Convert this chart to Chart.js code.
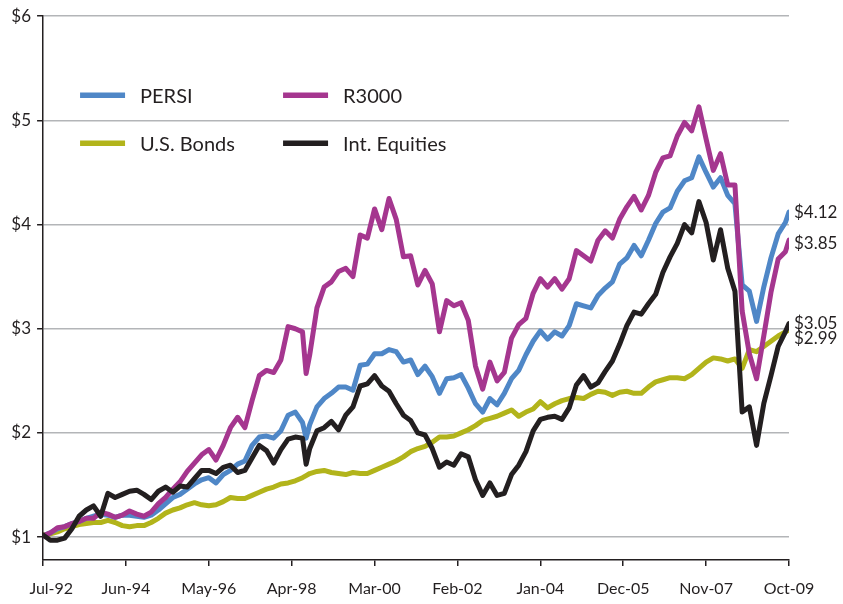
<!DOCTYPE html>
<html>
<head>
<meta charset="utf-8">
<title>Growth of $1</title>
<script src="https://cdn.jsdelivr.net/npm/chart.js@4.4.1/dist/chart.umd.min.js"></script>
<style>
  html, body { margin: 0; padding: 0; background: #fff; }
  #wrap { width: 843px; height: 604px; }
</style>
</head>
<body>
<div id="wrap"><canvas id="chart" width="843" height="604"></canvas></div>
<script>
// growth of $1, Jul-92 .. Oct-09 (month offsets from Jul-92)
const months = [
    0, 2, 4, 6, 8, 10, 12, 14, 16, 18,
    20, 22, 24, 26, 28, 30, 32, 34, 36, 38,
    40, 42, 44, 46, 48, 50, 52, 54, 56, 58,
    60, 62, 64, 66, 68, 70, 72, 73, 74, 76,
    78, 80, 82, 84, 86, 88, 90, 92, 94, 96,
    98, 100, 102, 104, 106, 108, 110, 112, 114, 116,
    118, 120, 122, 124, 126, 128, 130, 132, 134, 136,
    138, 140, 142, 144, 146, 148, 150, 152, 154, 156,
    158, 160, 162, 164, 166, 168, 170, 172, 174, 176,
    178, 180, 182, 184, 186, 188, 190, 192, 194, 196,
    198, 200, 202, 204, 206, 207
];

const tickLabels = ['Jul-92', 'Jun-94', 'May-96', 'Apr-98', 'Mar-00', 'Feb-02', 'Jan-04', 'Dec-05', 'Nov-07', 'Oct-09'];
const tickStep = 23;

const seriesNames = ['PERSI', 'R3000', 'U.S. Bonds', 'Int. Equities'];

const persi = [
    1.01, 1.04, 1.08, 1.10, 1.13, 1.15, 1.18, 1.20, 1.22, 1.21,
    1.19, 1.21, 1.21, 1.20, 1.19, 1.21, 1.26, 1.32, 1.38, 1.41,
    1.46, 1.51, 1.55, 1.57, 1.52, 1.60, 1.64, 1.70, 1.73, 1.88,
    1.96, 1.97, 1.95, 2.02, 2.17, 2.20, 2.10, 1.95, 2.08, 2.25,
    2.33, 2.38, 2.44, 2.44, 2.41, 2.65, 2.66, 2.76, 2.76, 2.80,
    2.78, 2.68, 2.70, 2.56, 2.64, 2.54, 2.38, 2.52, 2.53, 2.56,
    2.43, 2.28, 2.20, 2.33, 2.27, 2.38, 2.52, 2.60, 2.75, 2.88,
    2.98, 2.90, 2.97, 2.93, 3.03, 3.24, 3.22, 3.20, 3.32, 3.39,
    3.45, 3.62, 3.68, 3.80, 3.70, 3.85, 4.01, 4.12, 4.16, 4.32,
    4.42, 4.45, 4.65, 4.50, 4.36, 4.45, 4.28, 4.20, 3.42, 3.36,
    3.07, 3.40, 3.68, 3.91, 4.02, 4.12
];

const r3000 = [
    1.01, 1.04, 1.09, 1.10, 1.13, 1.15, 1.18, 1.18, 1.24, 1.22,
    1.19, 1.21, 1.25, 1.22, 1.20, 1.24, 1.32, 1.38, 1.46, 1.53,
    1.63, 1.71, 1.79, 1.84, 1.74, 1.88, 2.05, 2.15, 2.05, 2.31,
    2.55, 2.60, 2.58, 2.70, 3.02, 3.00, 2.97, 2.57, 2.75, 3.20,
    3.40, 3.45, 3.55, 3.58, 3.50, 3.90, 3.87, 4.15, 3.95, 4.25,
    4.05, 3.69, 3.70, 3.42, 3.56, 3.43, 2.97, 3.27, 3.22, 3.25,
    3.08, 2.64, 2.42, 2.68, 2.50, 2.58, 2.91, 3.04, 3.10, 3.34,
    3.48, 3.40, 3.48, 3.38, 3.48, 3.75, 3.70, 3.65, 3.85, 3.94,
    3.87, 4.05, 4.17, 4.27, 4.14, 4.28, 4.50, 4.64, 4.66, 4.85,
    4.98, 4.90, 5.13, 4.82, 4.52, 4.68, 4.38, 4.38, 3.17, 2.76,
    2.52, 2.93, 3.35, 3.67, 3.74, 3.85
];

const bonds = [
    1.02, 1.03, 1.05, 1.08, 1.10, 1.12, 1.13, 1.14, 1.14, 1.16,
    1.14, 1.11, 1.10, 1.11, 1.11, 1.14, 1.18, 1.23, 1.26, 1.28,
    1.31, 1.33, 1.31, 1.30, 1.31, 1.34, 1.38, 1.37, 1.37, 1.40,
    1.43, 1.46, 1.48, 1.51, 1.52, 1.54, 1.57, 1.59, 1.61, 1.63,
    1.64, 1.62, 1.61, 1.60, 1.62, 1.61, 1.61, 1.64, 1.67, 1.70,
    1.73, 1.77, 1.82, 1.85, 1.87, 1.91, 1.96, 1.96, 1.97, 2.00,
    2.03, 2.07, 2.12, 2.14, 2.16, 2.19, 2.22, 2.16, 2.20, 2.23,
    2.30, 2.24, 2.28, 2.31, 2.33, 2.34, 2.33, 2.37, 2.40, 2.39,
    2.36, 2.39, 2.40, 2.38, 2.38, 2.44, 2.49, 2.51, 2.53, 2.53,
    2.52, 2.56, 2.62, 2.68, 2.72, 2.71, 2.69, 2.71, 2.62, 2.80,
    2.78, 2.83, 2.88, 2.93, 2.97, 2.99
];

const intEquities = [
    1.02, 0.97, 0.97, 0.99, 1.08, 1.20, 1.26, 1.30, 1.20, 1.42,
    1.38, 1.41, 1.44, 1.45, 1.41, 1.36, 1.44, 1.48, 1.43, 1.49,
    1.48, 1.56, 1.64, 1.64, 1.61, 1.67, 1.69, 1.62, 1.64, 1.76,
    1.88, 1.83, 1.71, 1.84, 1.94, 1.96, 1.95, 1.70, 1.85, 2.02,
    2.05, 2.11, 2.03, 2.17, 2.25, 2.45, 2.47, 2.55, 2.45, 2.40,
    2.28, 2.17, 2.12, 2.00, 1.98, 1.85, 1.67, 1.72, 1.69, 1.80,
    1.77, 1.55, 1.40, 1.52, 1.40, 1.42, 1.60, 1.69, 1.82, 2.02,
    2.13, 2.15, 2.16, 2.13, 2.24, 2.46, 2.55, 2.44, 2.48, 2.59,
    2.69, 2.85, 3.03, 3.16, 3.14, 3.24, 3.33, 3.54, 3.69, 3.82,
    4.00, 3.92, 4.22, 4.02, 3.66, 3.95, 3.58, 3.36, 2.20, 2.25,
    1.88, 2.28, 2.55, 2.83, 2.97, 3.05
];

const colors = ['#4f87c7', '#a5368f', '#b2b41b', '#231f20'];
const ink = '#231f20';
const FONT = 'Lato, "Open Sans", sans-serif';

function pts(values) {
    return values.map((v, i) => ({ x: months[i], y: v }));
}

// legend inside the plot, two columns
const insideLegend = {
    id: 'insideLegend',
    afterDraw(chart) {
        const ctx = chart.ctx;
        const a = chart.chartArea;
        const cols = [a.left + 37, a.left + 240];
        const rows = [a.top + 79, a.top + 127];
        ctx.save();
        ctx.font = '20px ' + FONT;
        ctx.textBaseline = 'middle';
        ctx.fillStyle = ink;
        seriesNames.forEach((name, i) => {
            const x = cols[i % 2], y = rows[Math.floor(i / 2)];
            ctx.strokeStyle = colors[i];
            ctx.lineWidth = 5.5;
            ctx.beginPath();
            ctx.moveTo(x, y);
            ctx.lineTo(x + 45, y);
            ctx.stroke();
            ctx.fillText(name, x + 60, y + 1);
        });
        ctx.restore();
    }
};

// final value labels at the right end of each line
const endLabels = {
    id: 'endLabels',
    afterDraw(chart) {
        const ctx = chart.ctx;
        const ys = chart.scales.y;
        const nudge = [0, 3, 9, 0];
        ctx.save();
        ctx.font = '17px ' + FONT;
        ctx.textBaseline = 'middle';
        ctx.fillStyle = ink;
        chart.data.datasets.forEach((ds, i) => {
            const last = ds.data[ds.data.length - 1].y;
            const y = ys.getPixelForValue(last) + nudge[i];
            ctx.fillText('$' + last.toFixed(2), chart.chartArea.right + 5, y);
        });
        ctx.restore();
    }
};

const seriesValues = [persi, r3000, bonds, intEquities];
const drawOrder = [2, 1, 3, 0];

new Chart(document.getElementById('chart'), {
    type: 'line',
    data: {
        datasets: seriesNames.map((name, i) => ({
            label: name,
            data: pts(seriesValues[i]),
            borderColor: colors[i],
            backgroundColor: colors[i],
            borderWidth: 5,
            pointRadius: 0,
            tension: 0,
            fill: false,
            borderJoinStyle: 'round',
            borderCapStyle: 'round',
            order: drawOrder[i]
        }))
    },
    options: {
        responsive: false,
        animation: false,
        layout: { padding: { top: 13, right: 54, left: 0, bottom: 0 } },
        plugins: {
            legend: { display: false },
            tooltip: { enabled: false }
        },
        scales: {
            x: {
                type: 'linear',
                min: 0,
                max: 207,
                afterBuildTicks: s => { s.ticks = tickLabels.map((_, i) => ({ value: i * tickStep })); },
                afterFit: s => { s.height = 44; },
                ticks: {
                    autoSkip: false,
                    maxRotation: 0,
                    padding: 13,
                    color: ink,
                    font: { family: FONT, size: 16 },
                    callback: v => {
                        const lab = tickLabels[Math.round(v / tickStep)];
                        return v === 0 ? '    ' + lab : lab;
                    }
                },
                grid: { drawOnChartArea: false, drawTicks: true, tickLength: 6, color: ink, lineWidth: 1.5 },
                border: { display: true, color: ink, width: 1.5 }
            },
            y: {
                min: 0.78,
                max: 6,
                afterFit: s => { s.width = 43; },
                ticks: {
                    stepSize: 1,
                    includeBounds: false,
                    padding: 6,
                    color: ink,
                    font: { family: FONT, size: 17 },
                    callback: v => '$' + v
                },
                grid: { color: '#b3b5b8', lineWidth: 1.5, tickLength: 6, tickColor: ink },
                border: { display: true, color: ink, width: 1.5 }
            }
        }
    },
    plugins: [insideLegend, endLabels]
});
</script>
</body>
</html>
